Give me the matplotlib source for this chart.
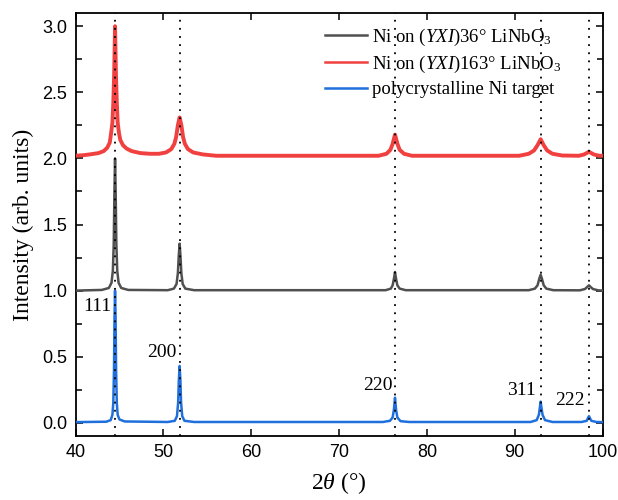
import matplotlib
matplotlib.use("Agg")
import matplotlib.pyplot as plt

# ---------------- data ----------------
# polycrystalline Ni target (blue)
tth_target = [40.0, 43.5, 44.0, 44.2, 44.3, 44.38, 44.44, 44.5, 44.56, 44.62, 44.7, 44.8, 45.0, 45.6,
              50.5, 51.3, 51.55, 51.68, 51.76, 51.85, 51.94, 52.02, 52.15, 52.4, 53.5,
              75.0, 75.8, 76.1, 76.25, 76.37, 76.49, 76.64, 77.0, 78.0,
              91.8, 92.5, 92.75, 92.87, 92.95, 93.03, 93.17, 93.45, 94.3,
              97.6, 98.2, 98.37, 98.45, 98.53, 98.72, 99.3, 100.0]
int_target = [0.005, 0.008, 0.02, 0.06, 0.15, 0.40, 0.80, 1.00, 0.80, 0.40, 0.15, 0.06, 0.025, 0.01,
              0.006, 0.015, 0.05, 0.15, 0.32, 0.43, 0.32, 0.15, 0.05, 0.015, 0.006,
              0.006, 0.015, 0.04, 0.10, 0.19, 0.10, 0.04, 0.012, 0.006,
              0.006, 0.02, 0.06, 0.12, 0.16, 0.12, 0.06, 0.02, 0.006,
              0.006, 0.015, 0.04, 0.05, 0.04, 0.015, 0.006, 0.005]

# Ni on (YXI)36° LiNbO3 (gray), offset +1
tth_36 = [40.0, 43.0, 43.8, 44.1, 44.25, 44.35, 44.43, 44.5, 44.57, 44.65, 44.75, 44.9, 45.2, 46.0,
          50.5, 51.2, 51.5, 51.65, 51.75, 51.85, 51.95, 52.05, 52.2, 52.5, 53.5,
          75.3, 75.9, 76.1, 76.25, 76.37, 76.49, 76.64, 76.9, 77.6,
          91.6, 92.3, 92.6, 92.8, 92.95, 93.1, 93.3, 93.6, 94.4,
          97.4, 98.0, 98.3, 98.45, 98.6, 98.9, 99.5, 100.0]
int_36 = [1.000, 1.005, 1.02, 1.06, 1.15, 1.35, 1.75, 2.00, 1.75, 1.35, 1.15, 1.06, 1.02, 1.005,
          1.003, 1.015, 1.05, 1.13, 1.26, 1.355, 1.26, 1.13, 1.05, 1.015, 1.003,
          1.003, 1.015, 1.04, 1.09, 1.14, 1.09, 1.04, 1.015, 1.003,
          1.003, 1.015, 1.04, 1.09, 1.12, 1.09, 1.04, 1.015, 1.003,
          1.002, 1.012, 1.03, 1.04, 1.03, 1.012, 1.002, 1.000]

# Ni on (YXI)163° LiNbO3 (red), offset +2
tth_163 = [40.0, 41.0, 41.6, 42.6, 43.2, 43.6, 43.9, 44.05, 44.2, 44.3, 44.4, 44.5, 44.6, 44.7, 44.8,
           44.95, 45.1, 45.4, 45.8, 46.4, 47.4,
           48.5, 49.5, 50.3, 50.9, 51.25, 51.45, 51.65, 51.85, 52.05, 52.25, 52.45, 52.8, 53.4, 54.5, 56.0,
           74.5, 75.4, 75.85, 76.1, 76.37, 76.65, 76.9, 77.4, 78.3,
           90.5, 91.6, 92.2, 92.6, 92.95, 93.3, 93.7, 94.3, 95.4,
           97.3, 97.9, 98.45, 99.0, 99.6, 100.0]
int_163 = [2.02, 2.025, 2.03, 2.04, 2.055, 2.08, 2.12, 2.19, 2.27, 2.42, 2.64, 3.00, 2.64, 2.42, 2.27,
           2.19, 2.14, 2.10, 2.075, 2.055, 2.04,
           2.035, 2.035, 2.045, 2.07, 2.11, 2.16, 2.25, 2.31, 2.25, 2.16, 2.11, 2.07, 2.045, 2.03, 2.02,
           2.02, 2.035, 2.065, 2.11, 2.18, 2.11, 2.065, 2.035, 2.02,
           2.02, 2.035, 2.06, 2.10, 2.145, 2.10, 2.06, 2.035, 2.022,
           2.02, 2.03, 2.05, 2.03, 2.02, 2.02]

peak_pos = [44.5, 51.85, 76.37, 92.95, 98.45]
hkl_labels = ["111", "200", "220", "311", "222"]
hkl_label_x = [44.12, 51.45, 76.13, 92.41, 97.92]
hkl_label_y = [0.88, 0.53, 0.28, 0.243, 0.168]

legend_labels = [r"Ni on ($\mathit{YXI}$)36° LiNbO$_3$",
                 r"Ni on ($\mathit{YXI}$)163° LiNbO$_3$",
                 "polycrystalline Ni target"]

# ---------------- style ----------------
plt.rcParams["mathtext.fontset"] = "custom"
plt.rcParams["mathtext.rm"] = "Liberation Serif"
plt.rcParams["mathtext.it"] = "Liberation Serif:italic"
plt.rcParams["mathtext.bf"] = "Liberation Serif:bold"

serif = "Liberation Serif"
sans = "Liberation Sans"

c_gray = "#505050"
c_red = "#F0403F"
c_blue = "#1F6FDC"

fig = plt.figure(figsize=(6.18, 5.0), dpi=100)
ax = fig.add_axes([0.1222, 0.128, 0.8528, 0.846])

l1, = ax.plot(tth_36, int_36, color=c_gray, lw=1.8, zorder=3)
l2, = ax.plot(tth_163, int_163, color=c_red, lw=2.8, zorder=3)
l3, = ax.plot(tth_target, int_target, color=c_blue, lw=1.8, zorder=3)

for p in peak_pos:
    ax.axvline(p, color="black", lw=1.3, linestyle=(0, (1, 3.5)), zorder=4)

for x, y, t in zip(hkl_label_x, hkl_label_y, hkl_labels):
    ax.text(x, y, t, ha="right", va="center", fontsize=14, family=serif, zorder=5)

ax.set_xlim(40, 100)
ax.set_ylim(-0.1, 3.1)
ax.set_xticks([40, 50, 60, 70, 80, 90, 100])
ax.set_yticks([0.0, 0.5, 1.0, 1.5, 2.0, 2.5, 3.0])
ax.set_yticks([0.25, 0.75, 1.25, 1.75, 2.25, 2.75], minor=True)
ax.tick_params(which="both", direction="in", top=True, right=True, width=1.1)
ax.tick_params(which="major", length=5)
ax.tick_params(which="minor", length=4)
ax.tick_params(axis="both", labelsize=13, pad=6)
for lab in ax.get_xticklabels() + ax.get_yticklabels():
    lab.set_family(sans)
for s in ax.spines.values():
    s.set_linewidth(1.3)

ax.set_xlabel(r"$\mathit{2\theta}$ (°)", fontsize=17, family=serif, labelpad=6)
ax.set_ylabel("Intensity (arb. units)", fontsize=17, family=serif, labelpad=6)

leg = ax.legend([l1, l2, l3], legend_labels, loc="upper left",
                bbox_to_anchor=(0.46, 0.985), frameon=False,
                prop={"family": serif, "size": 13.5}, handlelength=2.2,
                handletextpad=0.3, labelspacing=0.32, borderaxespad=0.0)
for h in leg.get_lines():
    h.set_linewidth(1.8)

fig.savefig("out.png", dpi=100)
